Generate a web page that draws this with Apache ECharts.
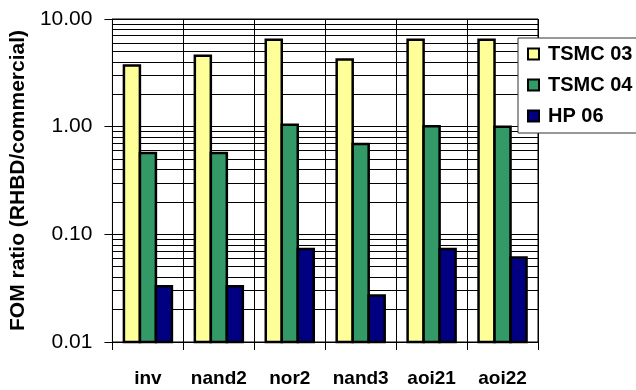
<!DOCTYPE html>
<html>
<head>
<meta charset="utf-8">
<script src="https://cdn.jsdelivr.net/npm/echarts@6/dist/echarts.min.js"></script>
<style>
  html, body { margin: 0; padding: 0; background: #fff; }
  #chart { width: 636px; height: 390px; }
</style>
</head>
<body>
<div id="chart"></div>
<script>
// Cell types on the x axis
const categories = ['inv', 'nand2', 'nor2', 'nand3', 'aoi21', 'aoi22'];

// FOM ratio (RHBD / commercial) per process
const tsmc03 = [3.7, 4.55, 6.4, 4.2, 6.4, 6.4];
const tsmc04 = [0.57, 0.57, 1.04, 0.69, 1.01, 1.0];
const hp06 = [0.033, 0.033, 0.073, 0.027, 0.073, 0.061];

// Log axis range and tick labels
const yMin = 0.01;
const yMax = 10;
const yTickLabels = ['0.01', '0.10', '1.00', '10.00'];

// Minor grid levels inside each decade of the log axis
const minorGrid = [
  0.02, 0.03, 0.04, 0.05, 0.06, 0.07, 0.08, 0.09,
  0.2, 0.3, 0.4, 0.5, 0.6, 0.7, 0.8, 0.9,
  2, 3, 4, 5, 6, 7, 8, 9
];

const font = 'Liberation Sans, Arial, sans-serif';
const barWidth = 16;

// Bars rise from the bottom of the log axis; each series sits at its own slot in the group
function barSeries(name, values, color, slot) {
  return {
    name: name,
    type: 'custom',
    z: 3,
    itemStyle: { color: color, borderColor: '#000', borderWidth: 2 },
    encode: { x: 0, y: 1 },
    data: values.map((v, i) => [i, v]),
    renderItem: function (params, api) {
      const cat = api.value(0);
      const top = api.coord([cat, api.value(1)]);
      const base = api.coord([cat, yMin]);
      const x = top[0] + (slot - 1) * barWidth - barWidth / 2;
      return {
        type: 'rect',
        shape: { x: x, y: top[1], width: barWidth, height: base[1] - top[1] },
        style: { fill: color, stroke: '#000', lineWidth: 2.5 }
      };
    }
  };
}

const chart = echarts.init(document.getElementById('chart'));
chart.setOption({
  animation: false,
  backgroundColor: '#fff',
  grid: { left: 104, right: 98, top: 19, bottom: 48, show: true, borderColor: '#000', borderWidth: 1 },
  legend: {
    data: [
      { name: 'TSMC 03', itemStyle: { color: '#FFFF99', borderColor: '#000', borderWidth: 2 } },
      { name: 'TSMC 04', itemStyle: { color: '#339966', borderColor: '#000', borderWidth: 2 } },
      { name: 'HP 06', itemStyle: { color: '#000080', borderColor: '#000', borderWidth: 2 } }
    ],
    orient: 'vertical',
    left: 518,
    top: 38,
    backgroundColor: '#fff',
    borderColor: '#333',
    borderWidth: 1,
    padding: [5, 20, 6, 9],
    itemWidth: 11,
    itemHeight: 11,
    itemGap: 9,
    icon: 'rect',
    textStyle: { fontFamily: font, fontWeight: 'bold', fontSize: 20, lineHeight: 22, color: '#000', padding: [0, 0, 0, 4] },
    z: 10
  },
  xAxis: {
    type: 'category',
    data: categories,
    boundaryGap: true,
    axisLine: { lineStyle: { color: '#000', width: 1 } },
    axisTick: { show: true, length: 8, lineStyle: { color: '#000', width: 1 } },
    splitLine: { show: true, lineStyle: { color: '#000', width: 1 } },
    axisLabel: { interval: 0, fontFamily: font, fontWeight: 'bold', fontSize: 19, color: '#000', margin: 27 }
  },
  yAxis: {
    type: 'log',
    logBase: 10,
    min: yMin,
    max: yMax,
    name: 'FOM ratio (RHBD/commercial)',
    nameLocation: 'middle',
    nameRotate: 90,
    nameGap: 60,
    nameTextStyle: { fontFamily: font, fontWeight: 'bold', fontSize: 21, color: '#000' },
    axisLine: { show: true, lineStyle: { color: '#000', width: 1 } },
    axisTick: { show: true, length: 8, lineStyle: { color: '#000', width: 1 } },
    splitLine: { show: true, lineStyle: { color: '#000', width: 1 } },
    axisLabel: {
      fontFamily: font, fontSize: 21, color: '#000', margin: 20,
      formatter: function (v) {
        const k = Math.round(Math.log10(v) - Math.log10(yMin));
        return yTickLabels[k] !== undefined ? yTickLabels[k] : Number(v).toFixed(2);
      }
    }
  },
  series: [
    {
      name: 'grid',
      type: 'line',
      data: [],
      silent: true,
      z: 1,
      markLine: {
        silent: true,
        z: 1,
        symbol: 'none',
        label: { show: false },
        lineStyle: { color: '#000', width: 1, type: 'solid' },
        data: minorGrid.map(v => ({ yAxis: v }))
      }
    },
    barSeries('TSMC 03', tsmc03, '#FFFF99', 0),
    barSeries('TSMC 04', tsmc04, '#339966', 1),
    barSeries('HP 06', hp06, '#000080', 2)
  ]
});
</script>
</body>
</html>
